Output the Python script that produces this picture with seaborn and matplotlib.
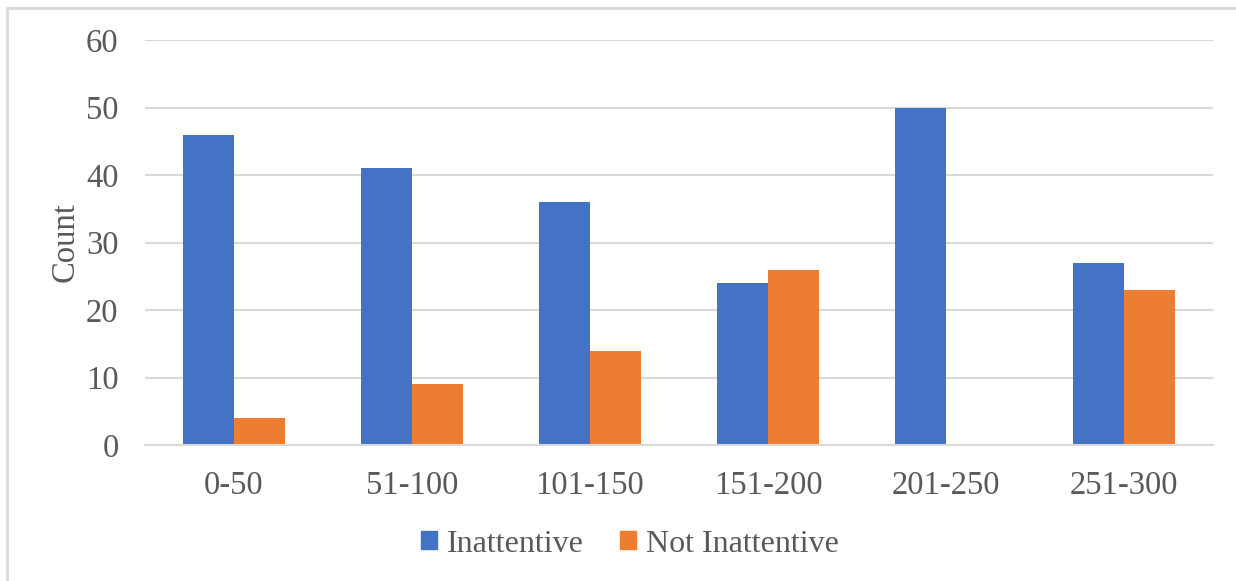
import matplotlib
matplotlib.use("Agg")
import matplotlib.pyplot as plt
import matplotlib.patches as mpatches
import seaborn as sns
import pandas as pd

categories = ["0-50", "51-100", "101-150", "151-200", "201-250", "251-300"]
inattentive = [46, 41, 36, 24, 50, 27]
not_inattentive = [4, 9, 14, 26, 0, 23]
series_names = ["Inattentive", "Not Inattentive"]
y_ticks = [0, 10, 20, 30, 40, 50, 60]

df = pd.DataFrame({
    "Range": categories * 2,
    "Count": inattentive + not_inattentive,
    "Group": [series_names[0]] * len(categories) + [series_names[1]] * len(categories),
})

sns.set_theme(style="white")
plt.rcParams["font.family"] = ["Liberation Serif", "DejaVu Serif"]

text_color = "#595959"
grid_color = "#d9d9d9"
palette = {"Inattentive": "#4472c4", "Not Inattentive": "#ed7d31"}

fig = plt.figure(figsize=(12.36, 5.81), dpi=100)
ax = fig.add_axes([145 / 1236, 1 - 445 / 581, (1213 - 145) / 1236, (445 - 40) / 581])

sns.barplot(data=df, x="Range", y="Count", hue="Group", order=categories,
            hue_order=series_names, palette=palette, width=0.573, gap=0,
            saturation=1, edgecolor="none", linewidth=0, ax=ax, legend=False)

ax.set_ylim(0, 60)
ax.set_yticks(y_ticks)
ax.set_xlim(-0.5, len(categories) - 0.5)
ax.yaxis.grid(True, color=grid_color, linewidth=1.5)
ax.set_axisbelow(True)
for side in ["top", "right", "left"]:
    ax.spines[side].set_visible(False)
ax.spines["bottom"].set_color(grid_color)
ax.spines["bottom"].set_linewidth(1.5)
ax.tick_params(axis="both", length=0, labelsize=23.5, labelcolor=text_color)
ax.tick_params(axis="y", pad=19)
ax.tick_params(axis="x", pad=18)
ax.set_xlabel("")
ax.set_ylabel("Count", fontsize=23.5, color=text_color, labelpad=4)

handles = [mpatches.Patch(color=palette[n], label=n) for n in series_names]
fig.legend(handles=handles, loc="center", bbox_to_anchor=(630 / 1236, 1 - 544 / 581),
           ncol=2, frameon=False, fontsize=23, labelcolor=text_color,
           handlelength=0.5, handleheight=0.5, handletextpad=0.3, columnspacing=1.15)

# thin outline framing the chart
fig.patches.append(mpatches.Rectangle((6.5 / 1236, -0.05), 1.1, 1 - 8 / 581 + 0.05,
                                      transform=fig.transFigure, fill=False,
                                      edgecolor="#d9d9d9", linewidth=2, zorder=0))

fig.savefig("out.png", dpi=100)
